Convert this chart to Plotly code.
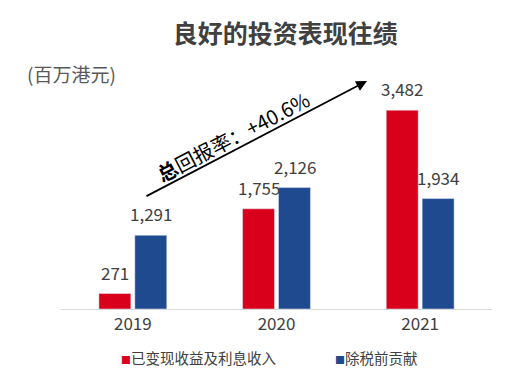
import plotly.graph_objects as go

years = ["2019", "2020", "2021"]
realized = [271, 1755, 3482]
contribution = [1291, 2126, 1934]
names = ["已变现收益及利息收入", "除税前贡献"]
red = "#d9001b"
blue = "#1f4a8f"
font = "Noto Sans CJK SC"

fig = go.Figure()
for vals, nm, col, shift in [(realized, names[0], red, -18), (contribution, names[1], blue, 18)]:
    fig.add_trace(go.Bar(x=years, y=vals, name=nm, marker_color=col))
    for i, v in enumerate(vals):
        fig.add_annotation(x=i, y=v, xref="x", yref="y", text=f"{v:,}", showarrow=False,
                           xshift=shift, yshift=7, yanchor="bottom",
                           font=dict(size=17, color="#404040", family=font))

fig.update_layout(
    width=531, height=378,
    margin=dict(l=53, r=47, t=72, b=77),
    paper_bgcolor="white", plot_bgcolor="white",
    barmode="group", bargap=0.5, bargroupgap=0.11,
    showlegend=False,
    font=dict(family=font, color="#404040"),
    xaxis=dict(type="category", range=[-0.5, 2.5], showgrid=False, showline=True,
               linecolor="#d9d9d9", linewidth=1,
               tickfont=dict(size=17, color="#404040", family=font), ticks=""),
    yaxis=dict(range=[0, 4010], visible=False),
    title=dict(text="<b>良好的投资表现往绩</b>", x=0.522, xanchor="center", y=0.931, yanchor="middle",
               font=dict(size=25, color="#404040", family=font)),
)

fig.add_annotation(xref="paper", yref="paper", x=-0.083, y=1.028, xanchor="left", yanchor="middle",
                   text="(百万港元)", showarrow=False,
                   font=dict(size=19, color="#595959", family=font))

# trend arrow
fig.add_annotation(xref="paper", yref="paper", x=0.71, y=0.996, ax=-222, ay=116,
                   text="", showarrow=True,
                   arrowhead=2, arrowsize=1.2, arrowwidth=1.8, arrowcolor="black")
fig.add_annotation(xref="paper", yref="paper", x=0.399, y=0.99,
                   text="<b>总</b>回报率：+40.6%", showarrow=False, textangle=-27.5,
                   font=dict(size=20, color="black", family=font))

# legend
fig.add_annotation(xref="paper", yref="paper", x=0.134, y=-0.21, xanchor="left", yanchor="middle",
                   text=f"<span style='color:{red};font-size:10px'>■</span>{names[0]}", showarrow=False,
                   font=dict(size=14.5, color="#404040", family=font))
fig.add_annotation(xref="paper", yref="paper", x=0.631, y=-0.21, xanchor="left", yanchor="middle",
                   text=f"<span style='color:{blue};font-size:10px'>■</span>{names[1]}", showarrow=False,
                   font=dict(size=14.5, color="#404040", family=font))

fig.write_html("out.html")
